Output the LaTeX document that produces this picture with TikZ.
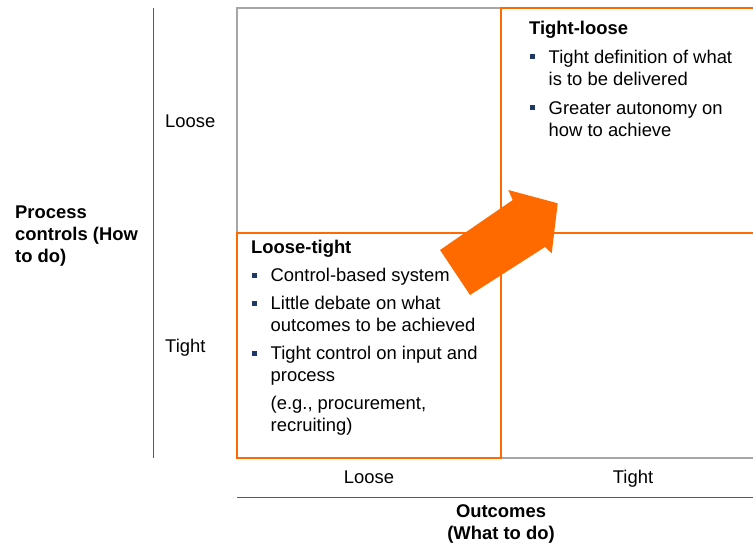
\documentclass[tikz,border=0pt]{standalone}
\usepackage{fontspec}
\setmainfont{Liberation Sans}
\usepackage{xcolor}
\usepackage{tikz}
\usetikzlibrary{positioning}
\definecolor{boxorange}{HTML}{FF6A00}
\definecolor{gridgray}{HTML}{A6A6A6}
\definecolor{axisgray}{HTML}{595959}
\definecolor{bulnavy}{HTML}{1F3864}
\newcommand{\bulsq}{\makebox[19.5pt][l]{\hspace{1pt}\textcolor{bulnavy}{\rule[4pt]{5pt}{5pt}}}}
\newcommand{\bulind}{\hspace*{19.5pt}}
\tikzset{
  qtext/.style={align=left, inner sep=0pt, anchor=base west, font=\fontsize{18.4}{22}\selectfont},
  axlab/.style={inner sep=0pt, anchor=base, font=\fontsize{18.4}{22}\selectfont},
  axtitle/.style={inner sep=0pt, anchor=base, font=\fontsize{18.4}{22}\selectfont\bfseries},
  gline/.style={draw=gridgray, line width=1.5pt},
  aline/.style={draw=axisgray, line width=1pt},
  oline/.style={draw=boxorange, line width=2pt}
}

\begin{document}
\begin{tikzpicture}[x=1pt, y=-1pt]
\useasboundingbox (0,0) rectangle (753,544);
% grid
\draw[gline] (501,8) -- (237,8) -- (237,233);
\draw[gline] (501,458) -- (753,458);
\draw[oline] (753,8) -- (501,8) -- (501,233) -- (753,233);
\draw[oline] (237,233) rectangle (501,458);
% axes
\draw[aline] (153,8) -- (153,458);
\draw[aline] (237,497) -- (753,497);
% axis labels (multi-line nodes sit on their last line)
\node[axlab, anchor=base west] (yloose) at (165,127.5) {Loose};
\node[axlab, anchor=base west] (ytight) at (165,352.5) {Tight};
\node[axlab] (xloose) at (369,483.5) {Loose};
\node[axlab] (xtight) at (633,483.5) {Tight};
\node[axtitle, align=left, anchor=base west] (ytitle) at (15,262.5) {Process\\controls (How\\to do)};
\node[axtitle, align=center] (xtitle) at (501,539.5) {Outcomes\\(What to do)};
% quadrant texts
\node[qtext] (qtl) at (529,136) {\textbf{Tight-loose}\\[7pt]
  \bulsq Tight definition of what\\
  \bulind is to be delivered\\[7pt]
  \bulsq Greater autonomy on\\
  \bulind how to achieve};
\node[qtext] (qlt) at (251,431.7) {\textbf{Loose-tight}\\[6pt]
  \bulsq Control-based system\\[6pt]
  \bulsq Little debate on what\\
  \bulind outcomes to be achieved\\[6pt]
  \bulsq Tight control on input and\\
  \bulind process\\[6pt]
  \bulind (e.g., procurement,\\
  \bulind recruiting)};
% big arrow
\fill[boxorange] (440,250) -- (512.7,200) -- (508.3,190) -- (557.7,203.3)
  -- (551.7,253.3) -- (545,247) -- (470,295) -- cycle;
\end{tikzpicture}
\end{document}
